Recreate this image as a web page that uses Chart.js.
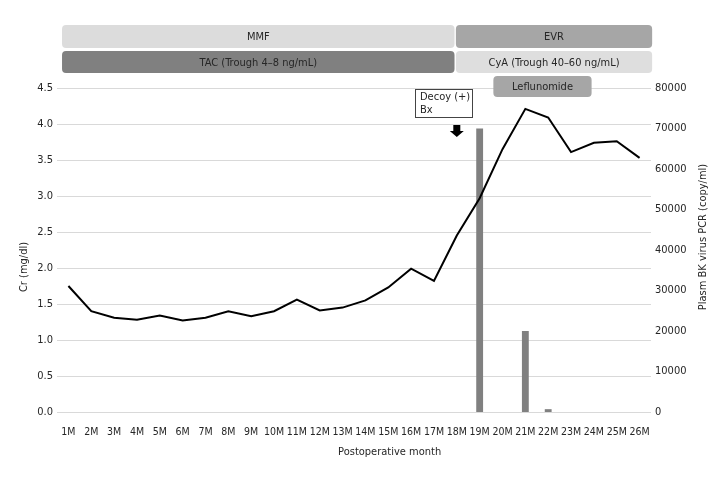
<!DOCTYPE html>
<html>
<head>
<meta charset="utf-8">
<script src="https://cdn.jsdelivr.net/npm/chart.js@4.4.0/dist/chart.umd.min.js"></script>
<style>
  html, body { margin: 0; padding: 0; background: #fff; }
</style>
</head>
<body>
<canvas id="myChart" width="720" height="480"></canvas>
<script>
// Datos
const months = ["1M", "2M", "3M", "4M", "5M", "6M", "7M", "8M", "9M", "10M", "11M", "12M", "13M",
  "14M", "15M", "16M", "17M", "18M", "19M", "20M", "21M", "22M", "23M", "24M", "25M", "26M"];
const creatinine = [1.75, 1.40, 1.31, 1.28, 1.34, 1.27, 1.31, 1.40, 1.33, 1.40, 1.56, 1.41, 1.45,
  1.55, 1.73, 1.99, 1.82, 2.45, 2.97, 3.65, 4.21, 4.09, 3.61, 3.74, 3.76, 3.53];
const bkVirus = [null, null, null, null, null, null, null, null, null, null, null, null, null,
  null, null, null, null, null, 70000, null, 20000, 700, null, null, null, null];
const crMax = 4.5;
const crStep = 0.5;
const bkMax = 80000;
const bkStep = 10000;
// periodos de tratamiento (en meses postoperatorios)
const treatments = [
  { label: "MMF", row: 0, from: 0.72, to: 17.9 },
  { label: "EVR", row: 0, from: 17.96, to: 26.55 },
  { label: "TAC (Trough 4\u20138 ng/mL)", row: 1, from: 0.72, to: 17.9 },
  { label: "CyA (Trough 40\u201360 ng/mL)", row: 1, from: 17.96, to: 26.55 },
  { label: "Leflunomide", row: 2, from: 19.6, to: 23.9 },
];
const eventLabel = ["Decoy (+)", "Bx"];
const eventMonth = 18;
const xTitle = "Postoperative month";
const yTitle = "Cr (mg/dl)";
const y2Title = "Plasm BK virus PCR (copy/ml)";

// elegir una fuente estrecha disponible
function pickFont() {
  const c = document.createElement("canvas").getContext("2d");
  c.font = "12px monospace";
  const base = c.measureText(xTitle).width;
  const names = [["Liberation Sans Narrow", 12, 12], ["DejaVu Sans Condensed", 11, 10.5]];
  for (const [f, size, xsize] of names) {
    c.font = '12px "' + f + '", monospace';
    if (Math.abs(c.measureText(xTitle).width - base) > 0.5) {
      return { family: '"' + f + '", sans-serif', size: size, xsize: xsize };
    }
  }
  return { family: "Roboto, sans-serif", size: 11, xsize: 10 };
}
const picked = pickFont();
const FONT = picked.family;
const FS = picked.size;
const TEXT = "#262626";

const bandColors = {
  "MMF": "#dcdcdc",
  "EVR": "#a6a6a6",
  "TAC (Trough 4\u20138 ng/mL)": "#808080",
  "CyA (Trough 40\u201360 ng/mL)": "#dedede",
  "Leflunomide": "#a6a6a6",
};

function roundRect(ctx, x, y, w, h, r) {
  ctx.beginPath();
  ctx.moveTo(x + r, y);
  ctx.lineTo(x + w - r, y);
  ctx.quadraticCurveTo(x + w, y, x + w, y + r);
  ctx.lineTo(x + w, y + h - r);
  ctx.quadraticCurveTo(x + w, y + h, x + w - r, y + h);
  ctx.lineTo(x + r, y + h);
  ctx.quadraticCurveTo(x, y + h, x, y + h - r);
  ctx.lineTo(x, y + r);
  ctx.quadraticCurveTo(x, y, x + r, y);
  ctx.closePath();
}

// Plugin para barras de tratamiento, titulos y anotacion
const overlays = {
  id: "overlays",
  afterDraw(chart) {
    const ctx = chart.ctx;
    const xs = chart.scales.x;
    const area = chart.chartArea;
    const rows = [[25, 23], [51, 22], [76, 21]];
    ctx.save();
    ctx.font = FS + "px " + FONT;
    ctx.textBaseline = "middle";
    treatments.forEach((t) => {
      const x1 = xs.getPixelForValue(t.from - 1);
      const x2 = xs.getPixelForValue(t.to - 1);
      const [y, h] = rows[t.row];
      ctx.fillStyle = bandColors[t.label];
      roundRect(ctx, x1, y, x2 - x1, h, 4);
      ctx.fill();
      ctx.fillStyle = TEXT;
      ctx.textAlign = "center";
      ctx.fillText(t.label, (x1 + x2) / 2, y + h / 2 + 1);
    });

    // titulos de ejes
    ctx.fillStyle = TEXT;
    ctx.textAlign = "center";
    ctx.fillText(xTitle, area.left + (area.right - area.left) * 0.56, 452);
    ctx.save();
    ctx.translate(24, 267);
    ctx.rotate(-Math.PI / 2);
    ctx.fillText(yTitle, 0, 0);
    ctx.restore();
    ctx.save();
    ctx.translate(703, 237);
    ctx.rotate(-Math.PI / 2);
    ctx.fillText(y2Title, 0, 0);
    ctx.restore();

    // cuadro "Decoy (+) Bx"
    const ax = xs.getPixelForValue(eventMonth - 1);
    const bx = Math.round(ax - 42);
    ctx.fillStyle = "#fff";
    ctx.fillRect(bx + 0.5, 89.5, 57, 28);
    ctx.strokeStyle = "#444";
    ctx.lineWidth = 1;
    ctx.strokeRect(bx + 0.5, 89.5, 57, 28);
    ctx.fillStyle = TEXT;
    ctx.textAlign = "left";
    ctx.fillText(eventLabel[0], bx + 5, 97);
    ctx.fillText(eventLabel[1], bx + 5, 110);

    // flecha
    ctx.fillStyle = "#000";
    ctx.beginPath();
    ctx.moveTo(ax - 3.5, 125);
    ctx.lineTo(ax + 3.5, 125);
    ctx.lineTo(ax + 3.5, 131);
    ctx.lineTo(ax + 7, 131);
    ctx.lineTo(ax, 137);
    ctx.lineTo(ax - 7, 131);
    ctx.lineTo(ax - 3.5, 131);
    ctx.closePath();
    ctx.fill();
    ctx.restore();
  },
};

const tickFont = { family: FONT, size: FS };
const chartContext = document.getElementById("myChart").getContext("2d");
var myChart = new Chart(chartContext, {
  data: {
    labels: months,
    datasets: [
      {
        type: "line",
        label: "Cr",
        data: creatinine,
        yAxisID: "y",
        borderColor: "#000",
        borderWidth: 2,
        pointRadius: 0,
        tension: 0,
        order: 0,
      },
      {
        type: "bar",
        label: "BK",
        data: bkVirus,
        yAxisID: "y2",
        backgroundColor: "#808080",
        categoryPercentage: 1,
        barPercentage: 0.3,
        order: 1,
      },
    ],
  },
  options: {
    responsive: false,
    animation: false,
    devicePixelRatio: 1,
    layout: { padding: { top: 88, left: 0, right: 0, bottom: 0 } },
    plugins: { legend: { display: false }, tooltip: { enabled: false } },
    scales: {
      x: {
        grid: { display: false, drawTicks: false },
        border: { display: false },
        ticks: { color: TEXT, font: { family: FONT, size: picked.xsize }, maxRotation: 0, autoSkip: false, padding: 14 },
        afterFit: (s) => { s.height = 68; },
      },
      y: {
        position: "left",
        min: 0,
        max: crMax,
        grid: { color: "#d9d9d9", drawTicks: false },
        border: { display: false },
        ticks: { stepSize: crStep, color: TEXT, font: tickFont, padding: 4, callback: (v) => v.toFixed(1) },
        afterFit: (s) => { s.width = 57; },
      },
      y2: {
        position: "right",
        min: 0,
        max: bkMax,
        grid: { display: false, drawTicks: false },
        border: { display: false },
        ticks: { stepSize: bkStep, color: TEXT, font: tickFont, padding: 4, callback: (v) => String(v) },
        afterFit: (s) => { s.width = 69; },
      },
    },
  },
  plugins: [overlays],
});
</script>
</body>
</html>
